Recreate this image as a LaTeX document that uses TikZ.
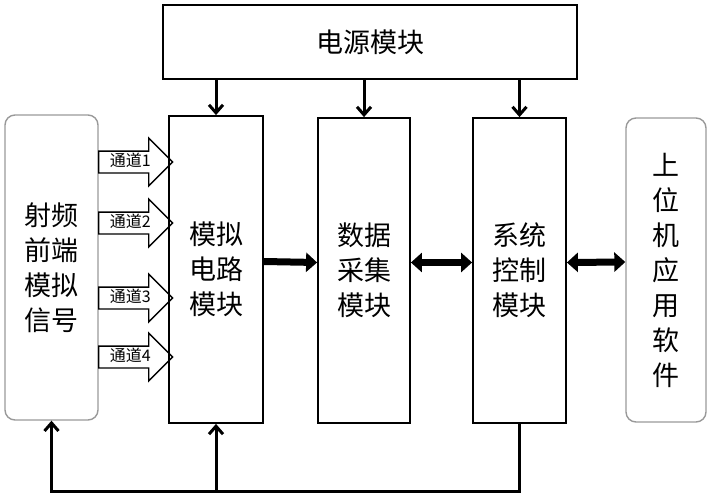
\documentclass[tikz,border=0pt]{standalone}
\usepackage{fontspec}
\setmainfont{Noto Sans CJK SC}
\usetikzlibrary{arrows.meta,shapes.arrows}

\begin{document}
\begin{tikzpicture}[x=1pt, y=-1pt, font=\fontsize{27}{35}\selectfont,
  block/.style={draw=black, line width=1.8pt, align=center, inner sep=0pt},
  soft/.style={draw=black!40, line width=1.4pt, rounded corners=10pt, align=center, inner sep=0pt},
  chan/.style={draw=black, line width=1.4pt, single arrow, single arrow head extend=13pt,
    minimum height=74pt, inner xsep=2pt, inner ysep=2.5pt, text height=12pt, text depth=3.5pt,
    font=\fontsize{16}{16}\selectfont, anchor=tail},
  power/.style={line width=3pt, -{Straight Barb[length=8pt,width=14pt]}},
  bus/.style={line width=7pt, -{Triangle[length=11pt,width=19pt]}},
  bibus/.style={line width=7pt, {Triangle[length=11pt,width=19pt]}-{Triangle[length=11pt,width=19pt]}}]

      \useasboundingbox (0,0) rectangle (711,500);

      \node[block, name=psu, minimum width=414pt, minimum height=74pt] at (370,42) {电源模块};
      \node[soft, name=rf, minimum width=93pt, minimum height=305pt] at (51.5,267.5) {射频\\前端\\模拟\\信号};
      \node[block, name=ana, minimum width=94pt, minimum height=307pt] at (216,269.5) {模拟\\电路\\模块};
      \node[block, name=daq, minimum width=92pt, minimum height=305pt] at (364,270.5) {数据\\采集\\模块};
      \node[block, name=ctrl, minimum width=93pt, minimum height=305pt] at (519.5,270.5) {系统\\控制\\模块};
      \node[soft, name=host, minimum width=80pt, minimum height=304pt] at (666,270) {上\\位\\机\\应\\用\\软\\件};

      % channels
      \node[chan, name=ch1] at (98,162) {通道1};
      \node[chan, name=ch2] at (98,223) {通道2};
      \node[chan, name=ch3] at (98,298) {通道3};
      \node[chan, name=ch4] at (98,357) {通道4};

      \path[power]
         (psu.south -| ana.north) edge (ana.north)
         (psu.south -| daq.north) edge (daq.north)
         (psu.south -| ctrl.north) edge (ctrl.north);

      \path[bus]
         ([yshift=8pt]ana.east) edge ([yshift=8pt]daq.west);
      \path[bibus]
         ([yshift=8pt]daq.east) edge ([yshift=8pt]ctrl.west)
         ([yshift=8pt]ctrl.east) edge ([yshift=8pt]host.west);

      % feedback
      \coordinate (low) at (0,491);
      \draw[power] (ctrl.south) |- (rf.south |- low) -- (rf.south);
      \draw[power] (ana.south |- low) -- (ana.south);
   \end{tikzpicture}
\end{document}
